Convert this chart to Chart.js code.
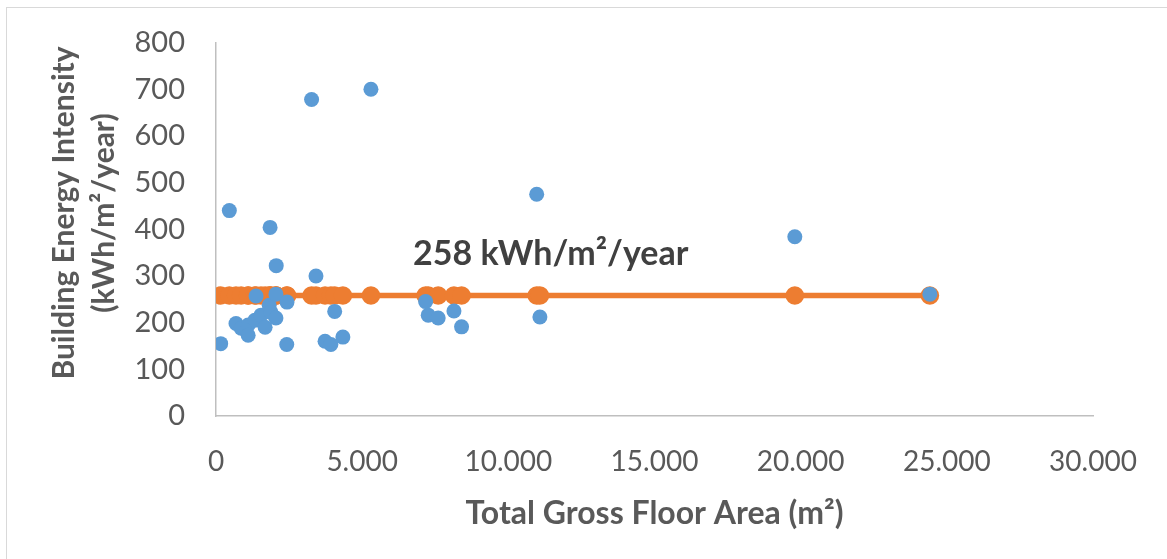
<!DOCTYPE html>
<html>
<head>
<meta charset="utf-8">
<title>Building Energy Intensity vs Floor Area</title>
<script src="https://cdn.jsdelivr.net/npm/chart.js@4/dist/chart.umd.min.js"></script>
<style>
  html, body { margin: 0; padding: 0; background: #fff; }
  #wrap { position: relative; width: 1167px; height: 559px; }
  #frame {
    position: absolute; left: 6px; top: 7px; right: 0; bottom: 0;
    border-left: 1px solid #d9d9d9; border-top: 1px solid #d9d9d9;
  }
  #bei { position: absolute; left: 0; top: 0; }
</style>
</head>
<body>
<div id="wrap">
  <div id="frame"></div>
  <canvas id="bei" width="1167" height="559"></canvas>
</div>
<script>
(function () {
  "use strict";

  /* ===== Data: floor area (m2) and energy intensity (kWh/m2/year) ===== */
  var AREA = [
    160, 456, 684, 860, 1100, 1100, 1330, 1370, 1540, 1680,
    1820, 1850, 1880, 2050, 2050, 2060, 2420, 2430, 3270, 3420,
    3730, 3930, 4060, 4340, 5300, 7170, 7260, 7600, 8140, 8400,
    10970, 11080, 19800, 24420
  ];
  var INTENSITY = [
    155, 440, 198, 188, 195, 173, 205, 257, 216, 190,
    237, 404, 222, 210, 261, 322, 153, 244, 678, 300,
    160, 153, 224, 169, 700, 245, 216, 210, 225, 191,
    475, 212, 384, 261
  ];
  var AVERAGE = 258;
  var AVERAGE_LABEL = "258 kWh/m²/year";
  var LABEL_AT = [11450, 347];

  var X_TITLE = "Total Gross Floor Area (m²)";
  var Y_TITLE = ["Building Energy Intensity", "(kWh/m²/year)"];

  /* ===== Colors / fonts ===== */
  var COLOR_POINTS = "#5b9bd5";
  var COLOR_AVG = "#ed7d31";
  var COLOR_TEXT = "#595959";
  var COLOR_LABEL = "#404040";
  var COLOR_AXIS = "#bfbfbf";
  var FONT = "Lato, 'Open Sans', sans-serif";

  var points = AREA.map(function (a, i) { return { x: a, y: INTENSITY[i] }; });
  var avgLine = AREA.slice().sort(function (a, b) { return a - b; })
    .map(function (a) { return { x: a, y: AVERAGE }; });

  function thousands(v) {
    return String(v).replace(/\B(?=(\d{3})+(?!\d))/g, ".");
  }

  // axis titles and the average label, placed off the chart area
  var textPlugin = {
    id: "beiText",
    afterDraw: function (chart) {
      var ctx = chart.ctx;
      var area = chart.chartArea;
      var sx = chart.scales.x, sy = chart.scales.y;
      ctx.save();
      ctx.textAlign = "center";
      ctx.textBaseline = "middle";

      ctx.fillStyle = COLOR_TEXT;
      ctx.font = "bold 32px " + FONT;
      ctx.fillText(X_TITLE, (area.left + area.right) / 2, 514);

      ctx.save();
      ctx.translate(64, 213);
      ctx.rotate(-Math.PI / 2);
      ctx.font = "bold 30px " + FONT;
      ctx.fillText(Y_TITLE[0], 0, 0);
      ctx.fillText(Y_TITLE[1], 0, 40);
      ctx.restore();

      ctx.fillStyle = COLOR_LABEL;
      ctx.font = "bold 34px " + FONT;
      ctx.fillText(AVERAGE_LABEL, sx.getPixelForValue(LABEL_AT[0]), sy.getPixelForValue(LABEL_AT[1]));
      ctx.restore();
    }
  };

  // keep tick-label overflow from pushing the plot area around
  function noOverflow(scale) {
    scale.paddingTop = 0;
    scale.paddingBottom = 0;
    scale.paddingLeft = 0;
    scale.paddingRight = 0;
  }

  new Chart(document.getElementById("bei").getContext("2d"), {
    type: "scatter",
    data: {
      datasets: [{
        label: "Buildings",
        data: points,
        backgroundColor: COLOR_POINTS,
        borderWidth: 0,
        pointRadius: 7.5,
        pointHoverRadius: 7.5,
      }, {
        label: "Average",
        data: avgLine,
        showLine: true,
        borderColor: COLOR_AVG,
        borderWidth: 5.5,
        backgroundColor: COLOR_AVG,
        pointBorderWidth: 0,
        pointRadius: 9.3,
        pointHoverRadius: 9.3,
      }],
    },
    options: {
      responsive: false,
      animation: false,
      layout: { padding: { left: 0, top: 42.5, right: 74, bottom: 0 } },
      plugins: {
        legend: { display: false },
        tooltip: { enabled: false },
      },
      scales: {
        x: {
          type: "linear",
          min: 0,
          max: 30000,
          grid: { display: false, drawTicks: false },
          border: { display: true, color: COLOR_AXIS, width: 1.5 },
          ticks: {
            stepSize: 5000,
            padding: 29,
            color: COLOR_TEXT,
            font: { family: FONT, size: 28 },
            callback: function (v) { return thousands(v); },
          },
          afterFit: function (scale) { scale.height = 143; noOverflow(scale); },
        },
        y: {
          min: 0,
          max: 800,
          grid: { display: false, drawTicks: false },
          border: { display: true, color: COLOR_AXIS, width: 1.5 },
          ticks: {
            stepSize: 100,
            padding: 31,
            color: COLOR_TEXT,
            font: { family: FONT, size: 29 },
          },
          afterFit: function (scale) { scale.width = 216; noOverflow(scale); },
        },
      },
    },
    plugins: [textPlugin],
  });
})();
</script>
</body>
</html>
